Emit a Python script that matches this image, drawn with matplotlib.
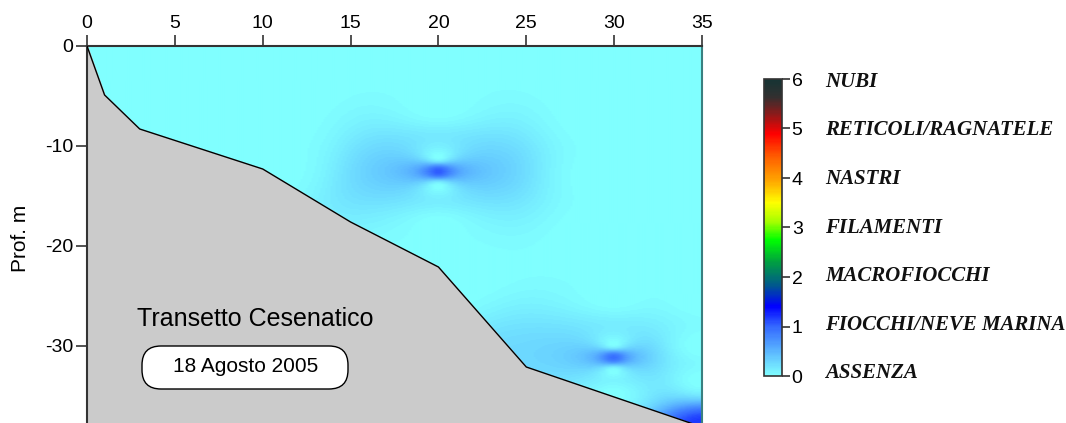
import numpy as np
import matplotlib
matplotlib.use("Agg")
import matplotlib.pyplot as plt
from matplotlib.colors import LinearSegmentedColormap, Normalize
from matplotlib.cm import ScalarMappable
from matplotlib.patches import FancyBboxPatch
from matplotlib.transforms import IdentityTransform

plt.rcParams['font.family'] = ['Liberation Sans', 'DejaVu Sans']
plt.rcParams['axes.unicode_minus'] = False

# bathymetry profile (distance, depth m)
bathy_x = [0, 1, 3, 10, 15, 20, 25, 35]
bathy_z = [0, -4.9, -8.3, -12.3, -17.6, -22.1, -32.1, -38.1]

# aggregate class readings along the transect (depth, class) per station
st1_z = [-0.5, -4.0]
st1_v = [0, 0]
st3_z = [-0.5, -4.0, -7.5]
st3_v = [0, 0, 0]
st10_z = [-0.5, -4.0, -8.0, -12.0]
st10_v = [0, 0, 0, 0]
st20_z = [-0.5, -6.0, -11.1, -12.6, -14.1, -18.0, -21.5]
st20_v = [0, 0, 0, 1.05, 0, 0, 0]
st30_z = [-0.5, -7.0, -13.0, -19.0, -25.0, -29.8, -31.2, -32.6, -34.8]
st30_v = [0, 0, 0, 0, 0, 0, 0.95, 0, 0]
st35_z = [-0.5, -7.0, -13.0, -19.0, -25.0, -30.0, -33.5, -38.0]
st35_v = [0, 0, 0, 0, 0, 0, 0, 1.2]

stations = [(1, st1_z, st1_v), (3, st3_z, st3_v), (10, st10_z, st10_v),
            (20, st20_z, st20_v), (30, st30_z, st30_v), (35, st35_z, st35_v)]

cb_ticks = [0, 1, 2, 3, 4, 5, 6]
cb_names = ["ASSENZA", "FIOCCHI/NEVE MARINA", "MACROFIOCCHI", "FILAMENTI",
            "NASTRI", "RETICOLI/RAGNATELE", "NUBI"]

cmap = LinearSegmentedColormap.from_list("aggr", [
    (0.0 / 6, "#80ffff"), (0.5 / 6, "#5ab4ff"), (1.0 / 6, "#3366ff"),
    (1.4 / 6, "#0000ff"), (1.85 / 6, "#005c88"), (2.3 / 6, "#00a040"),
    (2.75 / 6, "#00ff00"), (3.1 / 6, "#a0ff00"), (3.5 / 6, "#ffff00"),
    (3.95 / 6, "#ffa500"), (4.42 / 6, "#ff6000"), (4.9 / 6, "#ff0000"),
    (5.3 / 6, "#8b1a1a"), (5.66 / 6, "#303030"), (6.0 / 6, "#163434")])

# modified Shepard gridding of the readings (search radius R)
px, pz, pv = [], [], []
for sx, zs, vs in stations:
    for z, v in zip(zs, vs):
        px.append(sx); pz.append(z); pv.append(v)
px, pz, pv = np.array(px, float), np.array(pz, float), np.array(pv, float)

R = 13.0
gx = np.linspace(0, 35, 351)
gz = np.linspace(0, -38.5, 386)
GX, GZ = np.meshgrid(gx, gz)
d = np.sqrt((GX[..., None] - px) ** 2 + (GZ[..., None] - pz) ** 2) + 1e-4
w = (np.clip(R - d, 0, None) / (R * d)) ** 2
wsum = w.sum(-1)
field = np.where(wsum > 0, (w * pv).sum(-1) / np.where(wsum > 0, wsum, 1), 0)

fig = plt.figure(figsize=(10.66, 4.23), dpi=100)
ax = fig.add_axes([87 / 1066, 0, 615 / 1066, 377 / 423])

ax.imshow(field, extent=[0, 35, -38.5, 0], origin='upper', cmap=cmap,
          vmin=0, vmax=6, aspect='auto', interpolation='bilinear')
ax.fill_between(bathy_x, bathy_z, -40, color='#cbcbcb', zorder=2)
ax.plot(bathy_x, bathy_z, color='black', lw=1, zorder=3)

ax.set_xlim(0, 35)
ax.set_ylim(-37.7, 0)
ax.set_xticks([0, 5, 10, 15, 20, 25, 30, 35])
ax.set_yticks([0, -10, -20, -30])
ax.xaxis.tick_top()
ax.tick_params(axis='both', direction='out', length=8, width=1.2,
               labelsize=14, pad=2, color='#333333')
ax.tick_params(axis='x', top=True, bottom=False)
ax.spines['bottom'].set_visible(False)
for s in ['top', 'left']:
    ax.spines[s].set_linewidth(1.5)
    ax.spines[s].set_color('#333333')
ax.spines['right'].set_color('#3a8080')
ax.spines['right'].set_linewidth(1.5)
ax.set_ylabel("Prof. m", fontsize=15)
ax.yaxis.set_label_coords(-57 / 615, 0.49)

ax.text(9.55, -27.3, "Transetto Cesenatico", fontsize=18, ha='center',
        va='center', zorder=5)
box = FancyBboxPatch((142, 34), 206, 43, boxstyle="round,pad=0,rounding_size=19",
                     fc='white', ec='black', lw=1, transform=IdentityTransform(),
                     zorder=4)
ax.add_artist(box)
ax.text(9.0, -32.1, "18 Agosto 2005", fontsize=15, ha='center',
        va='center', zorder=5)

cax = fig.add_axes([764 / 1066, 47 / 423, 18 / 1066, 297 / 423])
cb = fig.colorbar(ScalarMappable(norm=Normalize(0, 6), cmap=cmap), cax=cax,
                  ticks=cb_ticks)
cb.outline.set_edgecolor('#333333')
cb.outline.set_linewidth(1.2)
cax.tick_params(direction='out', length=6, width=1.2, labelsize=14, pad=1,
                color='#333333')
tr = cax.get_yaxis_transform()
for t, name in zip(cb_ticks, cb_names):
    cax.text(3.4, t + 0.06 * (t - 3) / 3 * -1, name, transform=tr, fontsize=15,
             fontweight='bold', fontstyle='italic', family='Liberation Serif',
             va='center', ha='left', color='#111111')

fig.savefig("out.png", dpi=100)
